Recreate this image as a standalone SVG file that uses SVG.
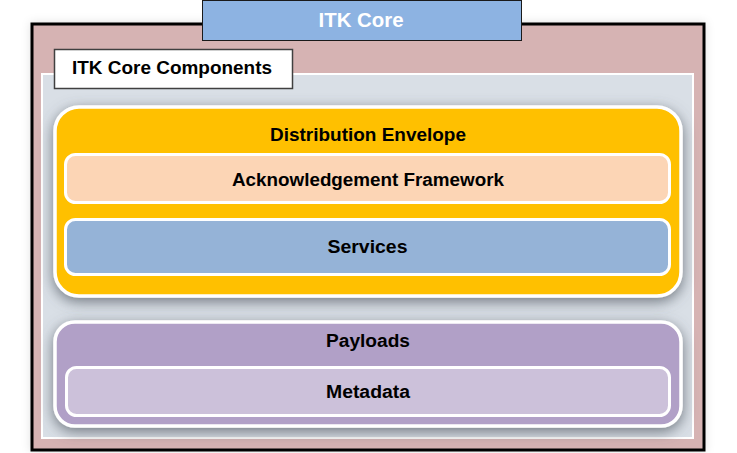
<svg xmlns="http://www.w3.org/2000/svg" width="737" height="453" viewBox="0 0 737 453">
  <style>
    .lbl { font-family: "Liberation Sans", Arial, sans-serif; font-weight: bold; font-size: 18px; fill: #000; text-anchor: middle; }
    .title { font-family: "Liberation Sans", Arial, sans-serif; font-weight: bold; font-size: 21px; fill: #fff; text-anchor: middle; }
    .box { stroke: #fff; stroke-width: 3.5; }
    .inner { stroke: #fff; stroke-width: 3; }
  </style>
  <defs>
    <filter id="shadow" x="-10%" y="-25%" width="120%" height="155%">
      <feDropShadow dx="0" dy="4" stdDeviation="7" flood-color="#4f565e" flood-opacity="0.75"/>
    </filter>
    <filter id="outerShadow" x="-5%" y="-5%" width="110%" height="110%">
      <feDropShadow dx="0" dy="0" stdDeviation="5" flood-color="#000" flood-opacity="0.12"/>
    </filter>
  </defs>
  <rect width="737" height="453" fill="#fff"/>

  <g id="itk-core-frame">
    <rect x="32" y="24" width="672" height="426" fill="#D6B3B3" stroke="#000" stroke-width="3" filter="url(#outerShadow)"/>
  </g>

  <g id="itk-core-title">
    <rect x="202.5" y="0.5" width="319" height="40" fill="#8DB3E2" stroke="#1a1a1a" stroke-width="1"/>
    <text class="title" x="361" y="27" textLength="85" lengthAdjust="spacingAndGlyphs">ITK Core</text>
  </g>

  <g id="components-panel">
    <rect x="42" y="74" width="651" height="364" fill="#D9DFE6" stroke="#fff" stroke-width="2"/>
  </g>

  <g id="components-label">
    <rect x="54.5" y="49.5" width="238" height="39" fill="#fff" stroke="#404040" stroke-width="1.5"/>
    <text class="lbl" x="172" y="74" textLength="200" lengthAdjust="spacingAndGlyphs">ITK Core Components</text>
  </g>

  <g id="distribution-envelope">
    <rect class="box" x="55" y="107" width="626" height="189" rx="24" fill="#FFC000" filter="url(#shadow)"/>
    <text class="lbl" x="368" y="141" textLength="196" lengthAdjust="spacingAndGlyphs">Distribution Envelope</text>
  </g>

  <g id="acknowledgement-framework">
    <rect class="inner" x="65.5" y="154.5" width="604" height="48" rx="10" fill="#FCD5B5"/>
    <text class="lbl" x="368" y="186" textLength="272" lengthAdjust="spacingAndGlyphs">Acknowledgement Framework</text>
  </g>

  <g id="services">
    <rect class="inner" x="65.5" y="219.5" width="604" height="55" rx="10" fill="#95B3D7"/>
    <text class="lbl" x="367.5" y="253" textLength="80" lengthAdjust="spacingAndGlyphs">Services</text>
  </g>

  <g id="payloads">
    <rect class="box" x="55" y="322" width="626" height="104" rx="20" fill="#B1A0C7" filter="url(#shadow)"/>
    <text class="lbl" x="368" y="347" textLength="84" lengthAdjust="spacingAndGlyphs">Payloads</text>
  </g>

  <g id="metadata">
    <rect class="inner" x="66.5" y="367.5" width="603" height="48" rx="10" fill="#CCC1DA"/>
    <text class="lbl" x="368" y="397.5" textLength="84" lengthAdjust="spacingAndGlyphs">Metadata</text>
  </g>

  <g id="connectors"></g>
</svg>
